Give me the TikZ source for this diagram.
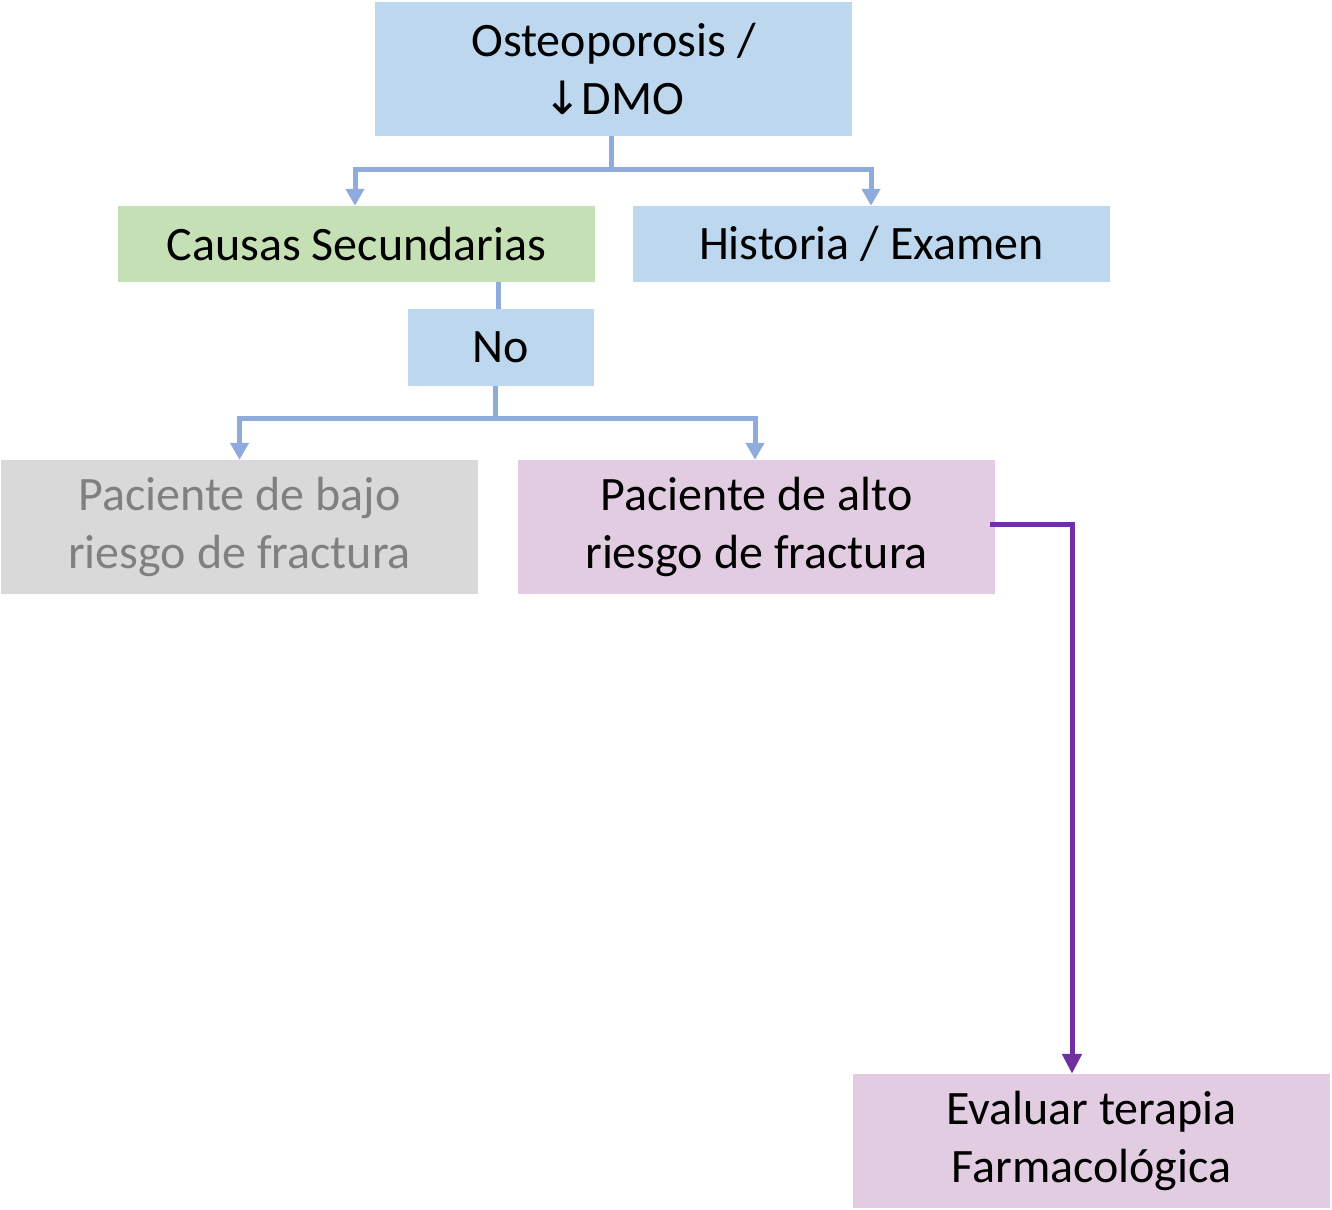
\documentclass[tikz,border=0pt]{standalone}
\usepackage{fontspec}
\setmainfont{Carlito}
\newfontfamily\arrowfont{DejaVu Sans}
\usetikzlibrary{arrows.meta}
\definecolor{bxblue}{HTML}{BDD7EE}
\definecolor{bxgreen}{HTML}{C5E0B4}
\definecolor{bxgray}{HTML}{D9D9D9}
\definecolor{bxpink}{HTML}{E1CCE1}
\definecolor{lnblue}{HTML}{8FAADC}
\definecolor{lnpurple}{HTML}{7030A0}
\definecolor{txgray}{HTML}{808080}
\tikzset{
  box/.style={rectangle, draw=none, inner sep=0pt, minimum width=477pt, align=center,
    font=\fontsize{48}{58}\selectfont},
  conn/.style={draw=lnblue, line width=5pt},
  connarr/.style={conn, -{Triangle[width=18pt,length=17pt]}},
  purp/.style={draw=lnpurple, line width=5pt, -{Triangle[width=19pt,length=20pt]}},
}
\newcommand{\darrowsym}{{\arrowfont\fontsize{46}{58}\selectfont ↓}}
\newcommand{\lowr}[1]{\raisebox{-2.5pt}{#1}}
\begin{document}
\begin{tikzpicture}[x=1pt,y=-1pt]
\useasboundingbox (0,0) rectangle (1332,1209);
\node[box, fill=bxblue, minimum height=134pt] (top) at (613.5,69) {\lowr{Osteoporosis /}\\\lowr{\darrowsym DMO}};
\node[box, fill=bxgreen, minimum height=76pt] (causas) at (356.5,244) {Causas Secundarias};
\node[box, fill=bxblue, minimum height=76pt] (hist) at (871.5,244) {Historia / Examen};
\node[box, fill=bxblue, minimum width=186pt, minimum height=77pt] (no) at (501,347.5) {No};
\node[box, fill=bxgray, text=txgray, minimum height=134pt] (bajo) at (239.5,527) {\lowr{Paciente de bajo}\\\lowr{riesgo de fractura}};
\node[box, fill=bxpink, minimum height=134pt] (alto) at (756.5,527) {\lowr{Paciente de alto}\\\lowr{riesgo de fractura}};
\node[box, fill=bxpink, minimum height=134pt] (ev) at (1091.5,1141) {\lowr{Evaluar terapia}\\\lowr{Farmacológica}};
% top fork
\coordinate (j1) at (611,170);
\draw[conn] ([xshift=-2.5pt]top.south) -- (j1);
\draw[connarr] (j1) -| ([xshift=-1.5pt]causas.north);
\draw[connarr] (j1) -| ([xshift=-0.5pt]hist.north);
% causas -> no
\draw[conn] ([xshift=-3pt]no.north) -- ([xshift=-3pt]no.north |- causas.south);
% lower fork
\coordinate (j2) at (495,418);
\draw[conn] ([xshift=-6pt]no.south) -- (j2);
\draw[connarr] (j2) -| (bajo.north);
\draw[connarr] (j2) -| ([xshift=-1.5pt]alto.north);
% purple
\draw[purp] ([xshift=-5pt,yshift=3pt]alto.east) -| ([xshift=-19.5pt]ev.north);
\end{tikzpicture}
\end{document}
